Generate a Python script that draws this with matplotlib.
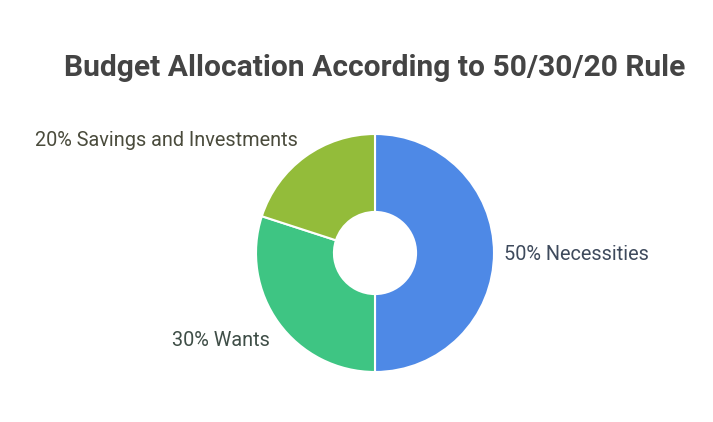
import matplotlib
matplotlib.use("Agg")
import matplotlib.pyplot as plt

labels = ["Necessities", "Wants", "Savings and Investments"]
shares = [50, 30, 20]
colors = ["#4E89E6", "#3EC583", "#93BC3A"]
label_colors = ["#3E4A5C", "#3F4E47", "#4A4B3C"]

W, H = 713, 422
cx, cy, R = 375, 253, 119

fig = plt.figure(figsize=(W / 100, H / 100), dpi=100)
ax = fig.add_axes([(cx - R) / W, (H - cy - R) / H, 2 * R / W, 2 * R / H])
ax.pie(shares, colors=colors, startangle=90, counterclock=False, radius=1,
       wedgeprops=dict(width=0.655, edgecolor="white", linewidth=1.5))
ax.set_xlim(-1, 1)
ax.set_ylim(-1, 1)
ax.set_aspect("equal")
ax.set_axis_off()

def px(x, y):
    return (x - cx) / R, (cy - y) / R

# label anchors (pixel coords)
spots = [(504, 255, "left"), (270, 341, "right"), (298, 140, "right")]
for lab, s, c, (x, y, ha) in zip(labels, shares, label_colors, spots):
    tx, ty = px(x, y)
    ax.text(tx, ty, f"{s}% {lab}", ha=ha, va="center", fontsize=14.3,
            family="Roboto", color=c, clip_on=False)

fig.text(374.5 / W, 1 - 68 / H, "Budget Allocation According to 50/30/20 Rule",
         ha="center", va="center", fontsize=21.6, fontweight="bold",
         family="Roboto", color="#444444")

fig.savefig("out.png", dpi=100)
